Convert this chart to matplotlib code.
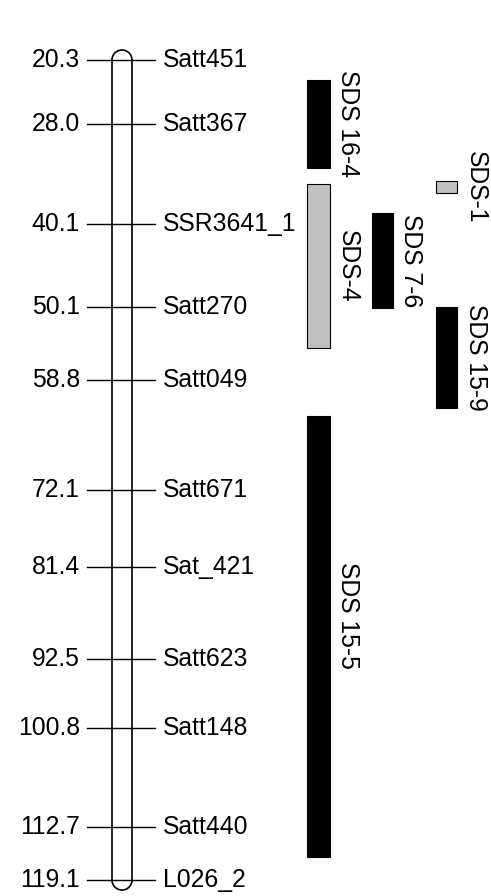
import matplotlib.pyplot as plt
from matplotlib.patches import Arc, Rectangle

# Marker map (cM positions and names)
positions = [20.3, 28.0, 40.1, 50.1, 58.8, 72.1, 81.4, 92.5, 100.8, 112.7, 119.1]
markers = ["Satt451", "Satt367", "SSR3641_1", "Satt270", "Satt049", "Satt671",
           "Sat_421", "Satt623", "Satt148", "Satt440", "L026_2"]

# QTL intervals
qtl_names = ["SDS 16-4", "SDS-4", "SDS 15-5", "SDS 7-6", "SDS-1", "SDS 15-9"]
qtl_start = [22.7, 35.2, 63.2, 38.7, 34.9, 50.1]
qtl_end = [33.3, 55.0, 116.3, 50.2, 36.3, 62.2]
qtl_column = [0, 0, 0, 1, 2, 2]
qtl_shaded = [False, True, False, False, True, False]

px_per_cm = 8.3
fs = 17.8
fam = ['Liberation Sans', 'DejaVu Sans']

fig = plt.figure(figsize=(4.91, 8.96), dpi=100)
ax = fig.add_axes([0, 0, 1, 1])
ax.set_xlim(0, 491)
top = positions[0] - 60 / px_per_cm
ax.set_ylim(top + 896 / px_per_cm, top)
ax.axis("off")

# chromosome body
cx0, cx1 = 112, 132
ax.plot([cx0, cx0], [positions[0], positions[-1]], color="black", lw=1.2)
ax.plot([cx1, cx1], [positions[0], positions[-1]], color="black", lw=1.2)
w = cx1 - cx0
h = w / px_per_cm
ax.add_patch(Arc(((cx0 + cx1) / 2, positions[0]), w, h, theta1=180, theta2=360,
                 color="black", lw=1.2))
ax.add_patch(Arc(((cx0 + cx1) / 2, positions[-1]), w, h, theta1=0, theta2=180,
                 color="black", lw=1.2))

# marker ticks and labels
for pos, name in zip(positions, markers):
    ax.plot([87, 155], [pos, pos], color="black", lw=1.0)
    ax.text(80, pos, f"{pos:.1f}", ha="right", va="center", fontsize=fs, family=fam)
    ax.text(163, pos, name, ha="left", va="center", fontsize=fs, family=fam)

# QTL bars
col_x = [307, 372, 436]
col_w = [23, 21, 21]
label_x = [336, 399, 464]
for name, s, e, c, shaded in zip(qtl_names, qtl_start, qtl_end, qtl_column, qtl_shaded):
    ax.add_patch(Rectangle((col_x[c], s), col_w[c], e - s,
                           facecolor="#c0c0c0" if shaded else "black",
                           edgecolor="black", lw=0.8))
    mid = (s + e) / 2
    if e - s > 40:
        # long interval: label sits a little above the middle
        mid -= 21 / px_per_cm
    ax.text(label_x[c], mid, name, rotation=-90, ha="left", va="center",
            fontsize=fs, family=fam)

fig.savefig("out.png", dpi=100)
